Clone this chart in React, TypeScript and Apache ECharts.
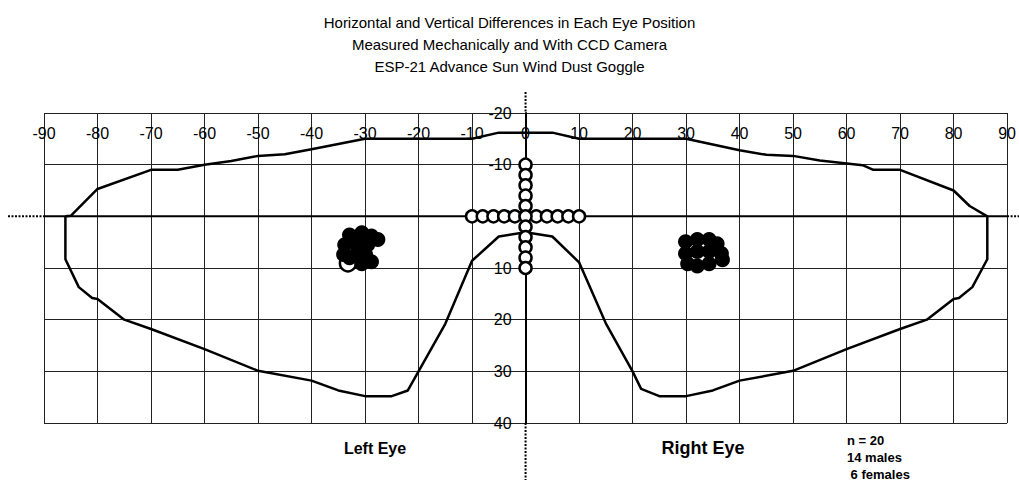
import React, { useEffect, useRef } from "react";
import * as echarts from "echarts";

const titleLines: string[] = [
  "Horizontal and Vertical Differences in Each Eye Position",
  "Measured Mechanically and With CCD Camera",
  "ESP-21 Advance Sun Wind Dust Goggle",
];

const xMin = -90;
const xMax = 90;
const yMin = -20;
const yMax = 40;
const tickStep = 10;

// Goggle field-of-view outline (horizontal deg, vertical deg; down is positive)
const goggleOutline: [number, number][] = [
  [-86, 0], [-85, -0.1], [-80, -5.3], [-70, -9], [-65, -9], [-60, -10], [-55, -10.7],
  [-50, -11.7], [-45, -12], [-40, -13], [-30, -15], [-10, -15], [-5, -16.2],
  [5, -16.2], [10, -15], [30, -15], [40, -12.8], [45, -11.9], [50, -11.7],
  [55, -10.8], [63, -9.9], [65, -9], [70, -9], [80, -5], [83, -2], [86.3, 0],
  [86.3, 8.3], [83.5, 13.7], [81, 15.8], [80, 16], [75, 20], [70, 21.8],
  [60, 25.7], [50, 29.9], [40, 31.8], [35, 33.7], [30, 34.8], [25, 34.8],
  [21.6, 33.4], [20, 30], [15, 20.7], [10, 8.9], [5, 3.9], [0, 3.1],
  [-5, 3.9], [-10, 8.6], [-15, 20.8], [-20, 30], [-22, 33.7], [-25, 34.8],
  [-30, 34.8], [-35, 33.7], [-40, 31.8], [-50, 29.9], [-60, 25.7], [-70, 21.8],
  [-75, 20], [-80, 16], [-81, 15.8], [-83.5, 13.7], [-86, 8.3], [-86, 0],
];

// Mechanical reference cross (open circles)
const crossOffsets: number[] = [-10, -8, -6, -4, -2, 0, 2, 4, 6, 8, 10];

// CCD-measured eye positions (filled circles)
const leftEyePoints: [number, number][] = [
  [-32.9, 3.6], [-30.6, 3.2], [-28.8, 3.8], [-27.6, 4.5], [-33.8, 5.5],
  [-31.6, 5.5], [-29.5, 5.5], [-34.0, 7.4], [-31.7, 7.4], [-29.9, 7.4],
  [-28.8, 8.8], [-30.6, 9.2], [-32.9, 8.0],
];
const leftEyeOpen: [number, number][] = [[-33.2, 9.1]];
const rightEyePoints: [number, number][] = [
  [29.9, 4.9], [32.1, 4.5], [34.3, 4.5], [35.8, 5.3], [29.9, 7.2],
  [32.1, 6.8], [34.3, 6.8], [36.6, 7.2], [36.8, 8.4], [30.3, 9.2],
  [32.1, 9.6], [34.3, 9.2],
];

const eyeLabels: string[] = ["Left Eye", "Right Eye"];
const noteLines: string[] = ["n = 20", "14 males", " 6 females"];

const FONT = "'Liberation Sans', Arial, sans-serif";

export default function App() {
  const ref = useRef<HTMLDivElement>(null);

  useEffect(() => {
    if (!ref.current) return;
    const chart = echarts.init(ref.current, undefined, { renderer: "svg" });
    const crossH = crossOffsets.map((v) => [v, 0]);
    const crossV = crossOffsets.map((v) => [0, v]);
    const openRing = { color: "#fff", borderColor: "#000", borderWidth: 2.5, opacity: 1 };

    chart.setOption({
      animation: false,
      backgroundColor: "#ffffff",
      textStyle: { fontFamily: FONT },
      title: {
        text: titleLines.join("\n"),
        left: "center",
        top: 6,
        textStyle: {
          fontFamily: FONT,
          fontSize: 15,
          lineHeight: 22,
          fontWeight: "normal",
          color: "#000",
        },
      },
      grid: { left: 44, right: 11, top: 113, bottom: 68 },
      xAxis: {
        type: "value",
        position: "top",
        min: xMin,
        max: xMax,
        interval: tickStep,
        axisLine: { show: false, onZero: false },
        axisTick: { show: false },
        axisLabel: {
          inside: true,
          margin: 12,
          color: "#000",
          fontSize: 16,
          fontFamily: FONT,
        },
        splitLine: { show: true, lineStyle: { color: "#222", width: 1 } },
      },
      yAxis: {
        type: "value",
        position: "left",
        inverse: true,
        min: yMin,
        max: yMax,
        interval: tickStep,
        axisLine: { show: true, onZero: false, lineStyle: { color: "#000", width: 2 } },
        axisTick: { show: false },
        axisLabel: {
          margin: 14,
          color: "#000",
          fontSize: 16,
          fontFamily: FONT,
          padding: [0, 0, 7, 0],
        },
        splitLine: { show: true, lineStyle: { color: "#222", width: 1 } },
      },
      series: [
        {
          type: "line",
          data: goggleOutline,
          symbol: "none",
          lineStyle: { color: "#000", width: 2.5 },
          z: 3,
        },
        {
          type: "scatter",
          data: leftEyeOpen,
          symbol: "circle",
          symbolSize: 16,
          itemStyle: openRing,
          z: 4,
        },
        {
          type: "scatter",
          data: leftEyePoints,
          symbol: "circle",
          symbolSize: 15,
          itemStyle: { color: "#000", opacity: 1 },
          z: 5,
        },
        {
          type: "scatter",
          data: rightEyePoints,
          symbol: "circle",
          symbolSize: 15,
          itemStyle: { color: "#000", opacity: 1 },
          z: 5,
        },
        {
          type: "scatter",
          data: crossH,
          symbol: "circle",
          symbolSize: 12,
          itemStyle: openRing,
          z: 6,
        },
        {
          type: "scatter",
          data: crossV,
          symbol: "circle",
          symbolSize: 12,
          itemStyle: openRing,
          z: 6,
        },
      ],
    });

    const p = (x: number, y: number) =>
      chart.convertToPixel({ gridIndex: 0 }, [x, y]) as number[];
    const [x0, yTop] = p(0, yMin);
    const [, yBot] = p(0, yMax);
    const [xL, y0] = p(xMin, 0);
    const [xR] = p(xMax, 0);
    const dotted = { stroke: "#000", lineWidth: 2, lineDash: [2, 1.5] };

    chart.setOption({
      yAxis: { offset: -(x0 - xL) },
      graphic: [
        { type: "line", shape: { x1: 8, y1: y0, x2: xL, y2: y0 }, style: dotted, z: 10 },
        { type: "line", shape: { x1: xR, y1: y0, x2: 1019, y2: y0 }, style: dotted, z: 10 },
        { type: "line", shape: { x1: xL, y1: y0, x2: xR, y2: y0 }, style: { stroke: "#000", lineWidth: 2 }, z: 1 },
        { type: "line", shape: { x1: x0, y1: 92, x2: x0, y2: yTop }, style: dotted, z: 10 },
        { type: "line", shape: { x1: x0, y1: yBot, x2: x0, y2: 480 }, style: dotted, z: 10 },
        {
          type: "text",
          x: 375,
          y: 448,
          style: { text: eyeLabels[0], fill: "#000", font: `bold 16px ${FONT}`, textAlign: "center", textVerticalAlign: "middle" },
        },
        {
          type: "text",
          x: 703,
          y: 448,
          style: { text: eyeLabels[1], fill: "#000", font: `bold 18px ${FONT}`, textAlign: "center", textVerticalAlign: "middle" },
        },
        ...noteLines.map((t, i) => ({
          type: "text",
          x: 847,
          y: 440 + i * 17,
          style: { text: t, fill: "#000", font: `bold 13px ${FONT}`, textAlign: "left", textVerticalAlign: "middle" },
        })),
      ],
    });

    return () => chart.dispose();
  }, []);

  return (
    <div
      ref={ref}
      style={{ position: "fixed", left: 0, top: 0, width: 1019, height: 491 }}
    />
  );
}
